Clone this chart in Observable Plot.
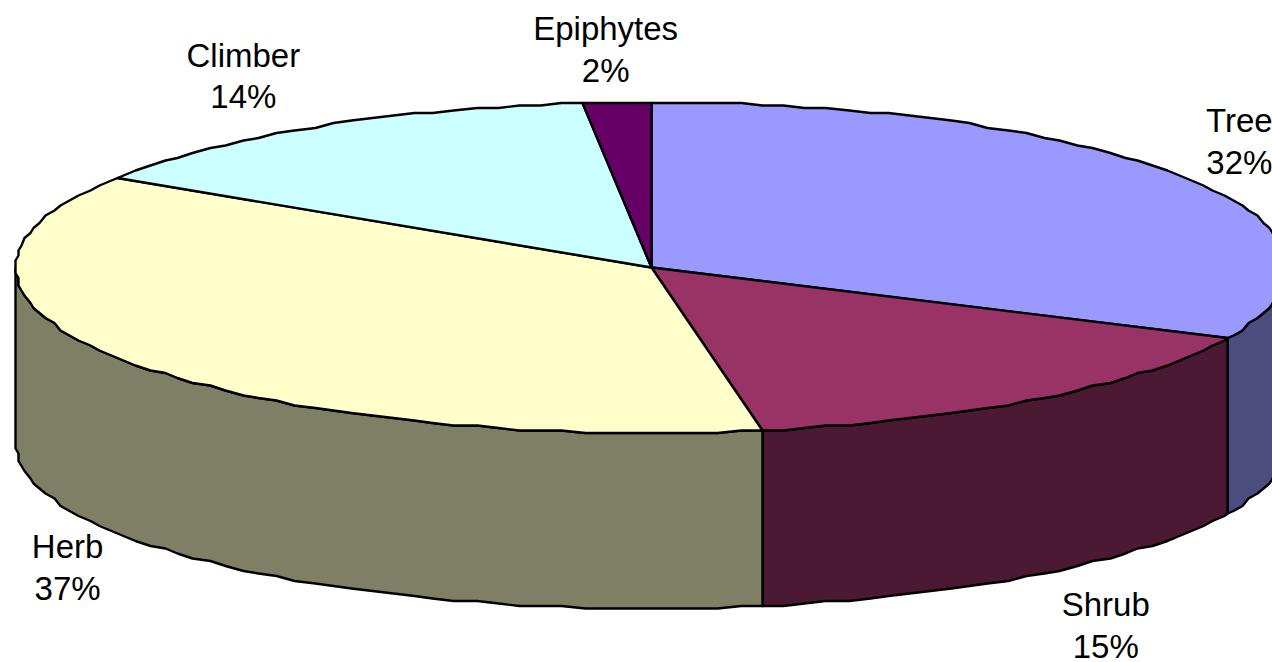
<!DOCTYPE html>
<html>
<head>
<meta charset="utf-8">
<style>
html,body{margin:0;padding:0;background:#fff;overflow:hidden}
svg{display:block;font-family:"Liberation Sans",Arial,sans-serif}
</style>
<script src="https://cdn.jsdelivr.net/npm/d3@7"></script>
<script src="https://cdn.jsdelivr.net/npm/@observablehq/plot@0.6"></script>
</head>
<body>
<div id="chart"></div>
<script>
// Data
const names = ["Tree", "Shrub", "Herb", "Climber", "Epiphytes"];
const shares = [31.9, 15.3, 36.9, 14.2, 1.7];
const percentLabels = ["32%", "15%", "37%", "14%", "2%"];
const topColors = ["#9999FF", "#993366", "#FFFFCC", "#CCFFFF", "#660066"];
const sideColors = ["#4C4C7F", "#4C1933", "#7F7F66", "#667F7F", "#330033"];
const labelGainX = [1.097, 1.17, 1.103, 1.222, 1.35];
const labelGainY = [1.435, 1.375, 1.335, 1.373, 1.33];

// Oblique view of the disc, in the units of the x and y scales
const W = 1272, H = 662;
const cx = 651, cy = 267, rx = 636, ry = 165.5, depth = 175.5;
const GX = 3, GY = 2.5, STEP = 2 * Math.PI / 180;
const snap = (v, g) => Math.round(v / g) * g;
const total = d3.sum(shares);
const ends = d3.cumsum(shares).map(v => v / total * 2 * Math.PI);
const starts = [0, ...ends.slice(0, -1)];
const rim = (t, drop = 0) => ({
  x: snap(cx + rx * Math.sin(t), GX),
  y: snap(cy - ry * Math.cos(t), GY) + drop
});
// Sample on one shared set of angles, so that a wall and its top slice keep the same rim
const arc = (a, b, drop = 0) => {
  const lo = Math.min(a, b), hi = Math.max(a, b);
  const inner = d3.range(Math.ceil(lo / STEP + 1e-6), hi / STEP).map(k => k * STEP);
  const ts = [lo, ...inner, hi];
  return (a < b ? ts : ts.reverse()).map(t => rim(t, drop));
};

const tops = names.flatMap((name, i) =>
  [{x: cx, y: cy}, ...arc(starts[i], ends[i])].map(p => ({...p, id: name, color: topColors[i]})));

// Only the near half of the rim (angles between 90° and 270°) shows a wall
const sides = names.flatMap((name, i) => {
  const a = Math.max(starts[i], Math.PI / 2), b = Math.min(ends[i], 3 * Math.PI / 2);
  if (a >= b) return [];
  return [...arc(a, b), ...arc(b, a, depth)].map(p => ({...p, id: name, color: sideColors[i]}));
});

const labels = names.map((name, i) => {
  const m = (starts[i] + ends[i]) / 2;
  return {
    text: name + "\n" + percentLabels[i],
    x: cx + rx * labelGainX[i] * Math.sin(m),
    y: cy - ry * labelGainY[i] * Math.cos(m) + (Math.cos(m) < 0 ? depth : 0)
  };
});

const poly = data => Plot.line(data, {
  x: "x", y: "y", z: "id", fill: "color", stroke: "#000",
  strokeWidth: 2.4, strokeLinejoin: "round", curve: "linear-closed"
});

const chart = Plot.plot({
  width: W, height: H,
  margin: 0,
  x: {axis: null, domain: [0, W], range: [0, W]},
  y: {axis: null, domain: [0, H], range: [0, H]},
  color: {type: "identity"},
  marks: [
    poly(sides),
    poly(tops),
    Plot.text(labels, {
      x: "x", y: "y", text: "text", fill: "#000",
      fontSize: 33, lineHeight: 1.27, textAnchor: "middle", lineAnchor: "middle"
    })
  ]
});
chart.style.background = "#fff";
document.getElementById("chart").append(chart);
</script>
</body>
</html>
